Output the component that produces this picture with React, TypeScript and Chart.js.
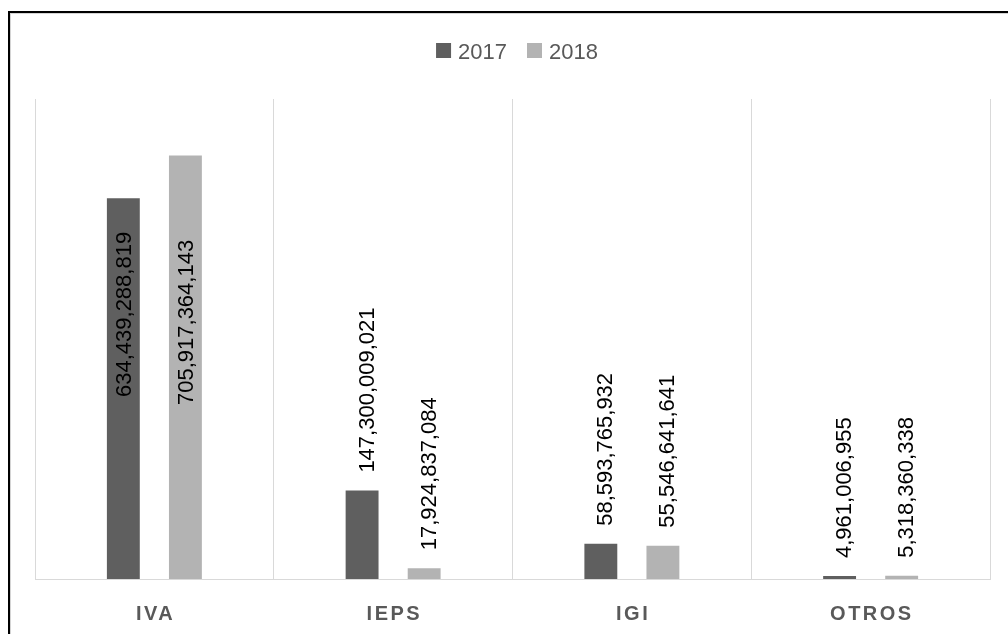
import React, { useEffect, useRef } from "react";
import { Chart, registerables } from "chart.js";

Chart.register(...registerables);

const categories = ["IVA", "IEPS", "IGI", "OTROS"];
const seriesNames = ["2017", "2018"];
const values2017 = [634439288819, 147300009021, 58593765932, 4961006955];
const values2018 = [705917364143, 17924837084, 55546641641, 5318360338];
const yMax = 800000000000;

const COLORS = ["#5f5f5f", "#b3b3b3"];
const LABEL_FONT = '22px "Liberation Sans", Arial, sans-serif';
const CAT_FONT = 'bold 20px "Liberation Sans", Arial, sans-serif';
const INSIDE_LABEL_BOTTOM = [397, 405];

const fmt = (v: number) => v.toLocaleString("en-US");

const customDraw = {
  id: "customDraw",
  afterDatasetsDraw(chart: any) {
    const ctx = chart.ctx;
    const area = chart.chartArea;
    // data labels
    chart.data.datasets.forEach((ds: any, di: number) => {
      const meta = chart.getDatasetMeta(di);
      meta.data.forEach((bar: any, i: number) => {
        const text = fmt(ds.data[i]);
        ctx.save();
        ctx.font = LABEL_FONT;
        const w = ctx.measureText(text).width;
        let startY = bar.y - 18;
        let xOff = 3.5;
        if (startY - w < area.top) {
          startY = INSIDE_LABEL_BOTTOM[di];
          xOff = 0;
        }
        ctx.translate(bar.x + xOff, startY);
        ctx.rotate(-Math.PI / 2);
        ctx.fillStyle = "#000000";
        ctx.textAlign = "left";
        ctx.textBaseline = "alphabetic";
        ctx.fillText(text, 0, 8);
        ctx.restore();
      });
    });
    // category labels
    const xScale = chart.scales.x;
    ctx.save();
    ctx.font = CAT_FONT;
    ctx.fillStyle = "#595959";
    (ctx as any).letterSpacing = "2.5px";
    ctx.textAlign = "left";
    ctx.textBaseline = "alphabetic";
    categories.forEach((c, i) => {
      const cx = xScale.getPixelForValue(i);
      const w = ctx.measureText(c).width - 2.5;
      ctx.fillText(c, cx - w / 2, 620);
    });
    ctx.restore();
    // legend
    ctx.save();
    ctx.font = LABEL_FONT;
    const box = 15;
    const gap = 7;
    const spacing = 20;
    const widths = seriesNames.map((s) => ctx.measureText(s).width);
    const total = widths.reduce((a, b) => a + b, 0) + seriesNames.length * (box + gap) + spacing * (seriesNames.length - 1);
    let x = 517 - total / 2;
    seriesNames.forEach((s, i) => {
      ctx.fillStyle = COLORS[i];
      ctx.fillRect(x, 43, box, box);
      x += box + gap;
      ctx.fillStyle = "#595959";
      ctx.textBaseline = "alphabetic";
      ctx.fillText(s, x, 59);
      x += widths[i] + spacing;
    });
    ctx.restore();
  },
};

export default function App() {
  const ref = useRef<HTMLCanvasElement>(null);
  useEffect(() => {
    if (!ref.current) return;
    const chart = new Chart(ref.current, {
      type: "bar",
      data: {
        labels: categories,
        datasets: [
          {
            label: seriesNames[0],
            data: values2017,
            backgroundColor: COLORS[0],
            categoryPercentage: 0.52,
            barPercentage: 0.53,
          },
          {
            label: seriesNames[1],
            data: values2018,
            backgroundColor: COLORS[1],
            categoryPercentage: 0.52,
            barPercentage: 0.53,
          },
        ],
      },
      options: {
        responsive: false,
        animation: false,
        layout: { padding: { left: 35, right: 18, top: 99, bottom: 55 } },
        plugins: {
          legend: { display: false },
          tooltip: { enabled: false },
        },
        scales: {
          x: {
            offset: true,
            grid: { display: true, color: "#d9d9d9", lineWidth: 1, offset: true, drawTicks: false },
            border: { display: true, color: "#d9d9d9" },
            ticks: { display: false },
          },
          y: {
            display: false,
            min: 0,
            max: yMax,
          },
        },
      },
      plugins: [customDraw],
    });
    return () => chart.destroy();
  }, []);
  return (
    <div style={{ position: "fixed", left: 0, top: 0, width: 1008, height: 634, overflow: "hidden", background: "#fff" }}>
      <canvas ref={ref} width={1008} height={634} style={{ position: "absolute", left: 0, top: 0, display: "block" }} />
      <div
        style={{
          position: "absolute",
          left: 8,
          top: 11,
          width: 1100,
          height: 700,
          border: "2px solid #000",
          boxShadow: "inset 1px 1px 0 #d4d4d4",
          boxSizing: "border-box",
          pointerEvents: "none",
        }}
      />
    </div>
  );
}
